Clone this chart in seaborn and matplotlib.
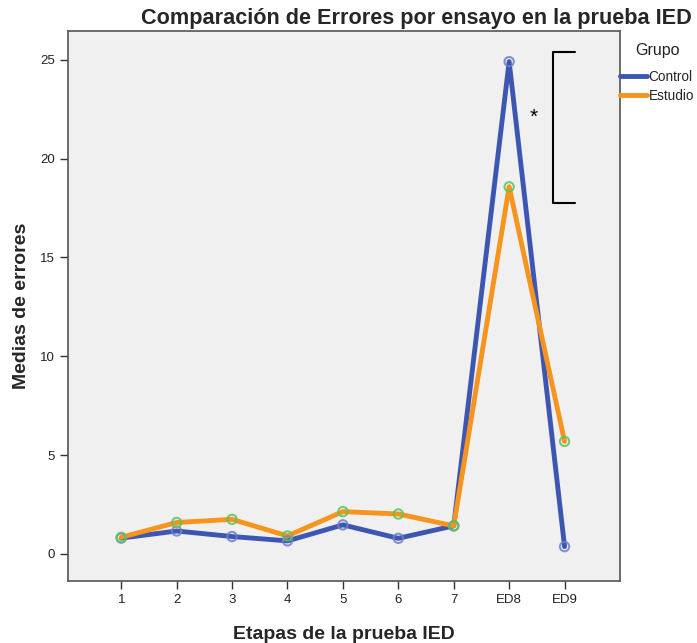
import matplotlib
matplotlib.use("Agg")
import matplotlib.pyplot as plt
import seaborn as sns
import pandas as pd

etapas = ["1", "2", "3", "4", "5", "6", "7", "ED8", "ED9"]
control = [0.80, 1.16, 0.88, 0.66, 1.47, 0.79, 1.42, 24.90, 0.37]
estudio = [0.84, 1.59, 1.75, 0.91, 2.14, 2.02, 1.42, 18.57, 5.69]
grupos = ["Control", "Estudio"]

df = pd.DataFrame({
    "Etapa": list(range(len(etapas))) * 2,
    "Media": control + estudio,
    "Grupo": [grupos[0]] * len(etapas) + [grupos[1]] * len(etapas),
})

sns.set_style("white")
plt.rcParams['font.family'] = ['Liberation Sans', 'DejaVu Sans']

line_pal = {"Control": "#3d56b2", "Estudio": "#f7941d"}
edge_pal = {"Control": "#6f80c8", "Estudio": "#5cc45c"}

fig = plt.figure(figsize=(6.97, 6.43), dpi=100)
ax = fig.add_axes([0.0976, 0.0964, 0.7919, 0.8554])
ax.set_facecolor("#f0f0f0")

sns.lineplot(data=df, x="Etapa", y="Media", hue="Grupo", palette=line_pal,
             linewidth=3.5, ax=ax, legend=True, zorder=2)
for g in grupos:
    sub = df[df["Grupo"] == g]
    ax.scatter(sub["Etapa"], sub["Media"], s=45, facecolors="none",
               edgecolors=edge_pal[g], linewidths=1.5, zorder=3, alpha=0.85)

ax.set_xlim(-0.96, 9.0)
ax.set_ylim(-1.37, 26.45)
ax.set_xticks(range(len(etapas)))
ax.set_xticklabels(etapas)
ax.set_yticks([0, 5, 10, 15, 20, 25])
ax.tick_params(axis="both", direction="out", length=6, width=1, color="#333333",
               labelsize=9.5, labelcolor="#222222", bottom=True, left=True)
for s in ax.spines.values():
    s.set_color("#555555")
    s.set_linewidth(1.2)

ax.set_xlabel("Etapas de la prueba IED", fontsize=14, fontweight="bold", labelpad=14)
ax.set_ylabel("Medias de errores", fontsize=14, fontweight="bold", labelpad=7)

# bracket and significance star
bx0, bx1 = 7.8, 8.18
ytop, ybot = 25.4, 17.76
ax.plot([bx1, bx0, bx0, bx1], [ytop, ytop, ybot, ybot], color="black", lw=1.5,
        clip_on=False, zorder=4)
ax.text(7.44, 22.1, "*", fontsize=15, ha="center", va="center", color="black")

fig.text(0.597, 0.972, "Comparación de Errores por ensayo en la prueba IED",
         fontsize=15.6, fontweight="bold", ha="center", va="center")

fig.text(657 / 697, 1 - 50 / 643, "Grupo", fontsize=11.5, ha="center",
         va="center", color="#222222")
leg = ax.legend(loc="upper left", bbox_to_anchor=(1.0, 1 - (70 - 31) / 550),
                frameon=False, fontsize=9.8,
                handlelength=2.0, handletextpad=0.1, borderaxespad=0,
                borderpad=0, labelspacing=0.35)
for h in leg.get_lines():
    h.set_linewidth(3.5)

fig.savefig("out.png", dpi=100, facecolor="white")
